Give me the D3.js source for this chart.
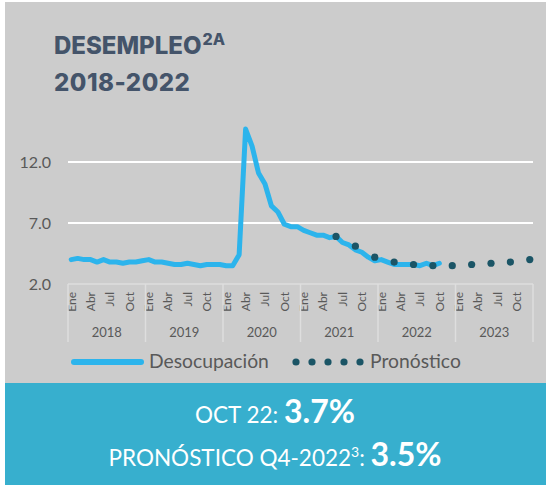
<!DOCTYPE html>
<html>
<head>
<meta charset="utf-8">
<script src="https://cdn.jsdelivr.net/npm/d3@7"></script>
<style>
  body { margin: 0; background: #fff; }
</style>
</head>
<body>
<script>
// Data
const months = ["Ene", "Feb", "Mar", "Abr", "May", "Jun", "Jul", "Ago", "Sep", "Oct", "Nov", "Dic"];
const years = [2018, 2019, 2020, 2021, 2022, 2023];
const periods = years.flatMap(y => months.map(m => `${m} ${y}`));

// Desocupación mensual, Ene 2018 - Oct 2022
const desocupacion = [
  4.0, 4.1, 4.0, 4.0, 3.8, 4.0, 3.8, 3.8, 3.7, 3.8, 3.8, 3.9,
  4.0, 3.8, 3.8, 3.7, 3.6, 3.6, 3.7, 3.6, 3.5, 3.6, 3.6, 3.6,
  3.5, 3.5, 4.4, 14.7, 13.3, 11.1, 10.2, 8.4, 7.9, 6.9, 6.7, 6.7,
  6.4, 6.2, 6.0, 6.0, 5.8, 5.9, 5.4, 5.2, 4.8, 4.6, 4.2, 3.9,
  4.0, 3.8, 3.6, 3.6, 3.6, 3.6, 3.5, 3.7, 3.5, 3.7
];

// Pronóstico trimestral
const pronosticoPeriods = ["Jun 2021", "Sep 2021", "Dic 2021", "Mar 2022", "Jun 2022", "Sep 2022",
  "Dic 2022", "Mar 2023", "Jun 2023", "Sep 2023", "Dic 2023"];
const pronostico = [5.9, 5.1, 4.2, 3.8, 3.6, 3.5, 3.5, 3.6, 3.7, 3.8, 4.0];

const yTicks = [2.0, 7.0, 12.0];
const monthTicks = ["Ene", "Abr", "Jul", "Oct"];

// Layout
const width = 547;
const height = 485;
const plotLeft = 68, plotRight = 533;
const plotBottom = 284, plotTop = 162;
const lineColor = "#2cb4ec";
const dotColor = "#1b5566";
const textGray = "#595959";
const font = "Lato, 'Open Sans', sans-serif";

const svg = d3.select("body").append("svg")
  .attr("width", width)
  .attr("height", height)
  .attr("viewBox", [0, 0, width, height]);

// panels
svg.append("rect").attr("x", 5).attr("y", 2).attr("width", 541).attr("height", 381).attr("fill", "#cccccc");
svg.append("rect").attr("x", 5).attr("y", 383).attr("width", 541).attr("height", 102).attr("fill", "#37afce");

// Title
const title = svg.append("text")
  .attr("x", 54).attr("y", 54)
  .attr("fill", "#44546a")
  .attr("font-family", "Inter, sans-serif")
  .attr("font-weight", 800)
  .attr("font-size", 24);
title.append("tspan").text("DESEMPLEO");
title.append("tspan").attr("font-size", 16).attr("dy", -9).attr("dx", 1).text("2A");

svg.append("text")
  .attr("x", 54).attr("y", 91)
  .attr("fill", "#44546a")
  .attr("font-family", "Inter, sans-serif")
  .attr("font-weight", 800)
  .attr("font-size", 24)
  .attr("letter-spacing", 0.5)
  .text("2018-2022");

// Scales
const x = d3.scaleBand().domain(periods).range([plotLeft, plotRight]);
const cx = d => x(d) + x.bandwidth() / 2;

const y = d3.scaleLinear().domain([2, 12]).range([plotBottom, plotTop]);

// grid lines
svg.append("g")
  .selectAll("line")
  .data(yTicks.filter(d => d > 2))
  .join("line")
  .attr("x1", plotLeft).attr("x2", plotRight)
  .attr("y1", d => y(d)).attr("y2", d => y(d))
  .attr("stroke", "#ffffff")
  .attr("stroke-width", 2);

// y axis labels
svg.append("g")
  .attr("transform", `translate(${plotLeft},0)`)
  .call(d3.axisLeft(y).tickValues(yTicks).tickSize(0).tickPadding(17).tickFormat(d3.format(".1f")))
  .call(g => g.select(".domain").remove())
  .call(g => g.selectAll("text")
    .attr("fill", textGray)
    .attr("font-family", font)
    .attr("font-size", 16));

// x axis: months
svg.append("g")
  .attr("transform", `translate(0,${plotBottom})`)
  .call(d3.axisBottom(x)
    .tickValues(periods.filter(d => monthTicks.includes(d.split(" ")[0])))
    .tickSize(0)
    .tickFormat(d => d.split(" ")[0]))
  .call(g => g.select(".domain").remove())
  .call(g => g.selectAll("text")
    .attr("fill", textGray)
    .attr("font-family", font)
    .attr("font-size", 12)
    .attr("text-anchor", "end")
    .attr("transform", "rotate(-90)")
    .attr("x", -8)
    .attr("y", 0)
    .attr("dy", "0.36em"));

// axis line and year separators
const axisColor = "#dedede";
svg.append("line")
  .attr("x1", plotLeft).attr("x2", plotRight)
  .attr("y1", plotBottom).attr("y2", plotBottom)
  .attr("stroke", axisColor).attr("stroke-width", 1.5);

const bounds = years.map(yr => x(`Ene ${yr}`)).concat([plotRight]);
svg.append("g")
  .selectAll("line")
  .data(bounds)
  .join("line")
  .attr("x1", d => d).attr("x2", d => d)
  .attr("y1", plotBottom).attr("y2", 342)
  .attr("stroke", axisColor).attr("stroke-width", 1.5);

svg.append("g")
  .selectAll("text")
  .data(years)
  .join("text")
  .attr("x", d => (x(`Ene ${d}`) + x(`Dic ${d}`) + x.bandwidth()) / 2)
  .attr("y", 337)
  .attr("text-anchor", "middle")
  .attr("fill", textGray)
  .attr("font-family", font)
  .attr("font-size", 13)
  .text(d => d);

// Desocupación line
const line = d3.line()
  .x((d, i) => cx(periods[i]))
  .y(d => y(d));

svg.append("path")
  .datum(desocupacion)
  .attr("d", line)
  .attr("fill", "none")
  .attr("stroke", lineColor)
  .attr("stroke-width", 5)
  .attr("stroke-linejoin", "round")
  .attr("stroke-linecap", "round");

// Pronóstico dots
svg.append("g")
  .selectAll("circle")
  .data(pronostico)
  .join("circle")
  .attr("cx", (d, i) => cx(pronosticoPeriods[i]))
  .attr("cy", d => y(d))
  .attr("r", 3.6)
  .attr("fill", dotColor);

// Legend
const legend = svg.append("g");
legend.append("line")
  .attr("x1", 74).attr("x2", 141)
  .attr("y1", 362).attr("y2", 362)
  .attr("stroke", lineColor)
  .attr("stroke-width", 6)
  .attr("stroke-linecap", "round");
legend.append("text")
  .attr("x", 149).attr("y", 368)
  .attr("fill", textGray)
  .attr("font-family", font)
  .attr("font-size", 19.3)
  .text("Desocupación");
legend.append("g")
  .selectAll("circle")
  .data([0, 1, 2, 3, 4])
  .join("circle")
  .attr("cx", d => 296 + d * 16)
  .attr("cy", 362)
  .attr("r", 3.6)
  .attr("fill", dotColor);
legend.append("text")
  .attr("x", 370).attr("y", 368)
  .attr("fill", textGray)
  .attr("font-family", font)
  .attr("font-size", 19.3)
  .text("Pronóstico");

// Summary box
const s1 = svg.append("text")
  .attr("x", 275).attr("y", 423)
  .attr("text-anchor", "middle")
  .attr("fill", "#ffffff")
  .attr("font-family", font)
  .attr("font-size", 22.5);
s1.append("tspan").text("OCT 22: ");
s1.append("tspan").attr("font-weight", 700).attr("font-size", 32).text("3.7%");

const s2 = svg.append("text")
  .attr("x", 275).attr("y", 466)
  .attr("text-anchor", "middle")
  .attr("fill", "#ffffff")
  .attr("font-family", font)
  .attr("font-size", 22.5);
s2.append("tspan").text("PRONÓSTICO Q4-2022");
s2.append("tspan").attr("font-size", 14).attr("dy", -9).text("3");
s2.append("tspan").attr("dy", 9).text(": ");
s2.append("tspan").attr("font-weight", 700).attr("font-size", 32).text("3.5%");
</script>
</body>
</html>
